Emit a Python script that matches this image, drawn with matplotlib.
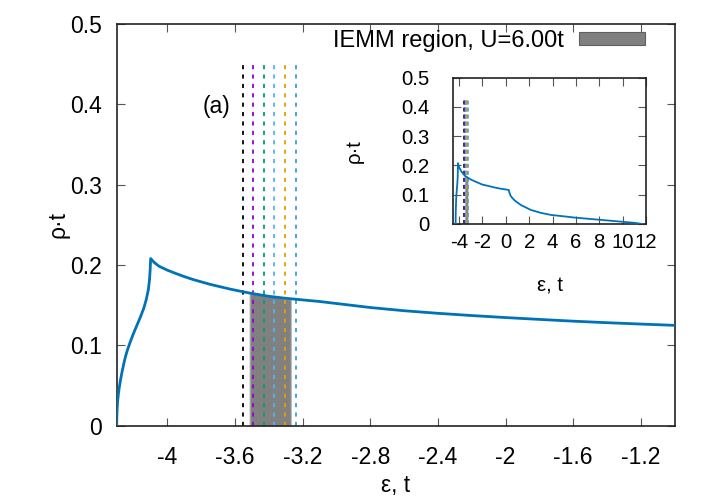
import numpy as np
import matplotlib
matplotlib.use('Agg')
import matplotlib.pyplot as plt
from matplotlib.patches import Patch

plt.rcParams['font.family'] = ['Liberation Sans', 'DejaVu Sans']

# ====================================================================
# data
# ====================================================================
# main panel DOS near the lower band edge
eps_main = [-4.300, -4.299, -4.297, -4.294, -4.290, -4.285, -4.278, -4.270, -4.262, -4.255,
            -4.245, -4.235, -4.220, -4.200, -4.180, -4.160, -4.140, -4.125, -4.113,
            -4.106, -4.102, -4.099,
            -4.080, -4.050, -4.000, -3.945, -3.900, -3.850, -3.800, -3.750, -3.700,
            -3.630, -3.550, -3.500, -3.400, -3.300, -3.200, -3.100, -3.000, -2.900,
            -2.800, -2.600, -2.400, -2.200, -2.000, -1.800, -1.600, -1.400, -1.200, -1.000]
rho_main = [0.000, 0.012, 0.022, 0.031, 0.039, 0.047, 0.056, 0.065, 0.073, 0.080,
            0.088, 0.095, 0.104, 0.115, 0.125, 0.135, 0.146, 0.157, 0.169,
            0.181, 0.194, 0.208,
            0.2035, 0.1985, 0.1935, 0.1890, 0.1855, 0.1820, 0.1790, 0.1760, 0.1735,
            0.1700, 0.1665, 0.1645, 0.1610, 0.1585, 0.1565, 0.1545, 0.1520, 0.1495,
            0.1470, 0.1430, 0.1398, 0.1370, 0.1345, 0.1322, 0.1300, 0.1281, 0.1264, 0.1248]

# full band (inset)
eps_full = [-4.30, -4.29, -4.27, -4.24, -4.20, -4.15, -4.12, -4.10, -4.00, -3.80, -3.50,
            -3.00, -2.50, -2.00, -1.50, -1.00, -0.50, 0.00, 0.25, 0.30, 0.40, 0.57,
            0.80, 1.28, 2.14, 3.00, 3.86, 5.00, 5.86, 7.00, 8.14, 9.00, 10.14, 11.00, 11.70]
rho_full = [0.000, 0.038, 0.065, 0.094, 0.116, 0.140, 0.161, 0.208, 0.1935, 0.179, 0.1645,
            0.152, 0.143, 0.1345, 0.130, 0.125, 0.121, 0.118, 0.116, 0.108, 0.097, 0.088,
            0.079, 0.065, 0.048, 0.038, 0.031, 0.026, 0.022, 0.018, 0.014, 0.011, 0.007, 0.004, 0.000]

# IEMM region (U = 6.00t)
iemm_eps = [-3.514, -3.450, -3.390, -3.330, -3.270]
iemm_rho = [0.166, 0.1635, 0.161, 0.159, 0.157]

# dashed vertical markers
vline_eps = [-3.554, -3.492, -3.431, -3.369, -3.307, -3.242]
vline_colors = ['black', '#9400d3', '#009e73', '#56b4e9', '#e69f00', '#3d9bd6']
vline_top = 0.45
vline_top_inset = 0.43

curve_color = '#0072b8'

main_xticks = [-4.0, -3.6, -3.2, -2.8, -2.4, -2.0, -1.6, -1.2]
main_xticklabels = ['-4', '-3.6', '-3.2', '-2.8', '-2.4', '-2', '-1.6', '-1.2']
yticks = [0, 0.1, 0.2, 0.3, 0.4, 0.5]
yticklabels = ['0', '0.1', '0.2', '0.3', '0.4', '0.5']
inset_xticks = [-4, -2, 0, 2, 4, 6, 8, 10, 12]
inset_xticklabels = ['-4', '-2', '0', '2', '4', '6', '8', '10', '12']


def style_axes(ax, fs, xpad, ypad):
    for s in ax.spines.values():
        s.set_linewidth(1.2)
        s.set_color('#222222')
    ax.tick_params(which='both', direction='in', top=True, right=True,
                   length=6, width=0.8, color='#555555', labelsize=fs)
    ax.tick_params(axis='x', pad=xpad)
    ax.tick_params(axis='y', pad=ypad)


# ====================================================================
# figure
# ====================================================================
fig = plt.figure(figsize=(7.18, 5.03), dpi=100)
ax = fig.add_axes([0.1625, 0.154, 0.7772, 0.798])

ax.fill_between(iemm_eps, 0, iemm_rho, facecolor='#808080', edgecolor='#b8b8b8',
                linewidth=0.8, zorder=1)
for xv, c in zip(vline_eps, vline_colors):
    ax.plot([xv, xv], [0, vline_top], color=c, lw=1.3, dashes=(2.3, 2.9), zorder=2)
ax.plot(eps_main, rho_main, color=curve_color, lw=2.0, zorder=3)

ax.set_xlim(-4.3, -1.0)
ax.set_ylim(0, 0.5)
ax.set_xticks(main_xticks)
ax.set_xticklabels(main_xticklabels)
ax.set_yticks(yticks)
ax.set_yticklabels(yticklabels)
style_axes(ax, 16.5, 14.5, 10.8)

ax.set_xlabel('ε, t', fontsize=16.5)
ax.set_ylabel('ρ·t', fontsize=16.5)
ax.xaxis.set_label_coords(0.5, -0.121)
ax.yaxis.set_label_coords(-0.084, 0.5)

ax.text(-3.71, 0.398, '(a)', fontsize=16.5, ha='center', va='center')

leg_handle = Patch(facecolor='#808080', edgecolor='#606060', linewidth=0.8)
ax.legend(handles=[leg_handle], labels=['IEMM region, U=6.00t'], loc='upper right',
          bbox_to_anchor=(0.9468, 0.985), frameon=False, markerfirst=False,
          fontsize=17, handlelength=2.8, handleheight=0.45, handletextpad=0.65,
          borderpad=0, borderaxespad=0)

# ---- inset ----
axi = fig.add_axes([0.6313, 0.5547, 0.2684, 0.2909])
axi.fill_between(iemm_eps, 0, iemm_rho, facecolor='#808080', edgecolor='#b8b8b8',
                 linewidth=0.5, zorder=1)
for xv, c in zip(vline_eps, vline_colors):
    axi.plot([xv, xv], [0, vline_top_inset], color=c, lw=1.1, dashes=(2.6, 2.0), zorder=2)
axi.plot(eps_full, rho_full, color=curve_color, lw=1.3, zorder=3)

axi.set_xlim(-4.5, 12)
axi.set_ylim(0, 0.5)
axi.set_xticks(inset_xticks)
axi.set_xticklabels(inset_xticklabels)
axi.set_yticks(yticks)
axi.set_yticklabels(yticklabels)
style_axes(axi, 14.7, 6.5, 17)

axi.set_xlabel('ε, t', fontsize=14.7)
axi.set_ylabel('ρ·t', fontsize=14.7)
axi.xaxis.set_label_coords(0.5, -0.36)
axi.yaxis.set_label_coords(-0.465, 0.5)

fig.savefig('out.png', dpi=100)
